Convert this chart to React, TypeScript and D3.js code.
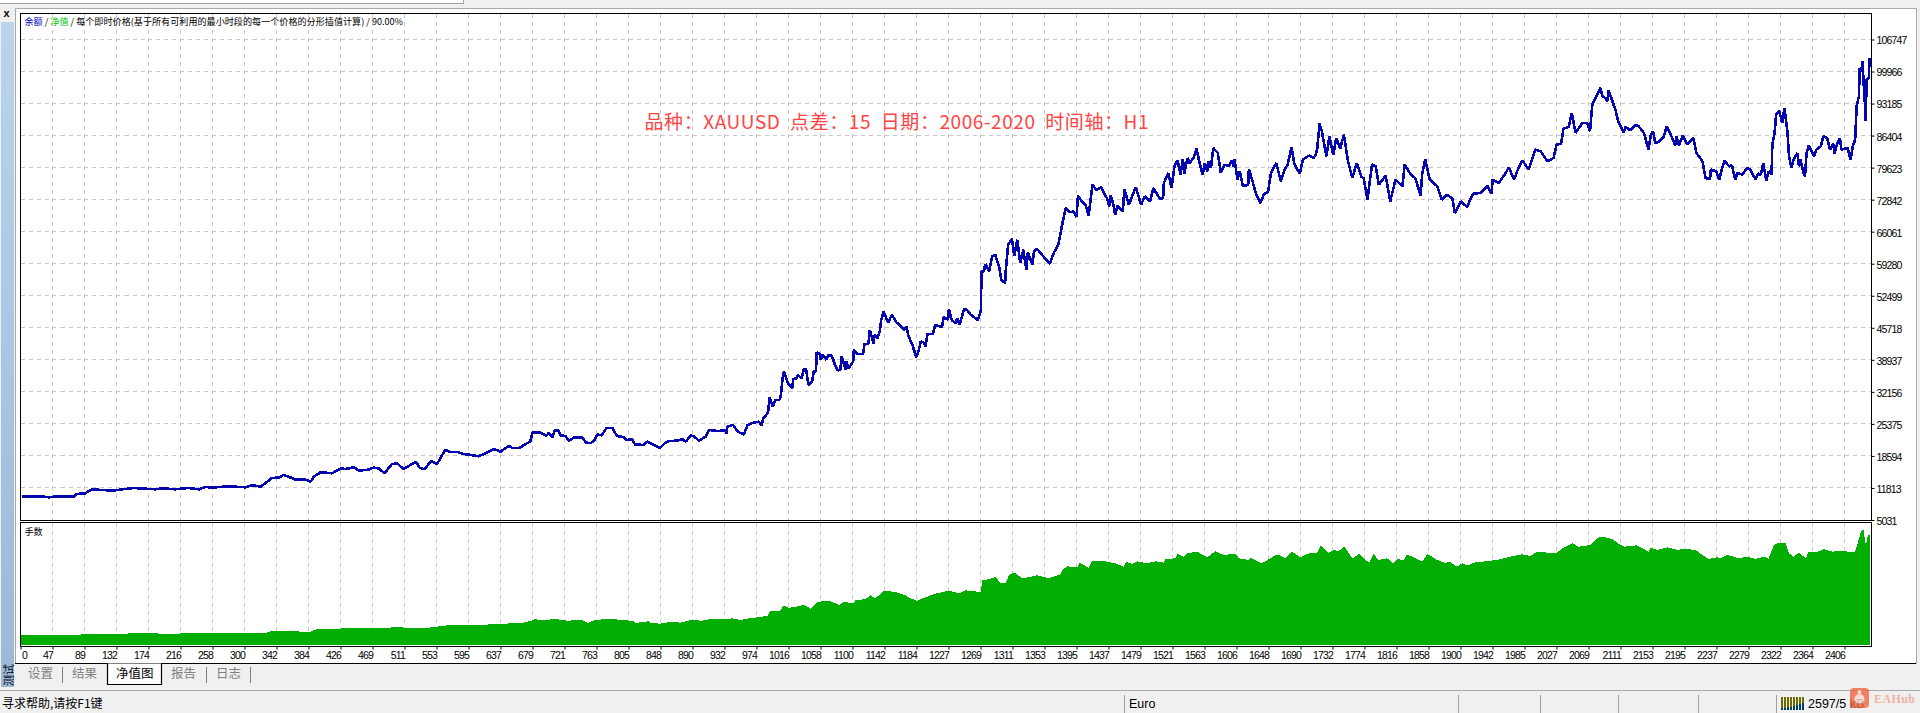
import React, { useEffect, useRef } from 'react';
import * as d3 from 'd3';

// x axis labels (deal number), one every 32px in the terminal
const xLabels = [
  '0', '47', '89', '132', '174', '216', '258', '300', '342', '384', '426', '469', '511', '553', '595',
  '637', '679', '721', '763', '805', '848', '890', '932', '974', '1016', '1058', '1100', '1142', '1184',
  '1227', '1269', '1311', '1353', '1395', '1437', '1479', '1521', '1563', '1606', '1648', '1690', '1732',
  '1774', '1816', '1858', '1900', '1942', '1985', '2027', '2069', '2111', '2153', '2195', '2237', '2279',
  '2322', '2364', '2406',
];

const yTicks = [
  5031, 11813, 18594, 25375, 32156, 38937, 45718, 52499, 59280, 66061, 72842, 79623, 86404, 93185, 99966, 106747,
];

// [deal, balance]
const equity: [number, number][] = [
  [7, 10050], [20, 10050], [31, 10050], [42, 9835], [55, 10050], [75, 9976], [79, 10541], [90, 10682], [99, 11530],
  [112, 11388], [126, 11247], [139, 11530], [154, 11812], [174, 11600], [183, 11530], [191, 11742], [209, 11530],
  [226, 11812], [240, 11530], [248, 12024], [257, 11883], [279, 12166], [301, 11954], [310, 12378], [321, 12095],
  [327, 12801], [336, 13931], [345, 14002], [351, 14567], [362, 13931], [367, 13578], [380, 13578], [387, 13154],
  [391, 14214], [400, 15132], [415, 14920], [426, 15909], [433, 15838], [444, 16192], [450, 15485], [463, 15697],
  [470, 16121], [477, 15909], [484, 14920], [494, 16898], [501, 16968], [509, 15838], [523, 17110],
  [526, 17251], [530, 16121], [537, 15768], [545, 17533], [553, 16827], [558, 18240], [564, 19865], [571, 19441],
  [580, 19441], [588, 19017], [597, 18805], [608, 18522], [617, 19158], [628, 20077], [637, 19512], [648, 20783],
  [652, 20289], [662, 20289], [670, 21136], [676, 21631], [679, 23537], [689, 23537], [697, 22831], [700, 23396],
  [705, 22549], [708, 23961], [713, 24032], [716, 22902], [722, 22831], [727, 21772], [733, 22478], [744, 22549],
  [749, 21489], [755, 21277], [760, 21772], [764, 23114], [770, 22973], [776, 24456], [784, 24526], [790, 22831],
  [799, 22549], [803, 21984], [810, 22125], [814, 20995], [825, 20924], [830, 21631], [838, 20995], [847, 20289],
  [852, 21136], [857, 21701], [869, 21842], [876, 22125], [881, 21631], [887, 22902], [891, 22761], [898, 21842],
  [907, 22690], [911, 24102], [922, 23890], [933, 23961], [934, 23255], [935, 24809], [943, 25162], [949, 23749],
  [957, 23114], [962, 25162], [970, 25656], [977, 25868], [980, 24950], [983, 26574], [989, 27775],
  [991, 30955], [995, 29048], [999, 30461], [1004, 30461], [1006, 31521], [1008, 35051], [1010, 36465], [1015, 33992],
  [1021, 32933], [1022, 34840], [1027, 35051], [1028, 35758], [1033, 35051], [1036, 36959], [1039, 36959],
  [1042, 33639], [1047, 34346], [1049, 36465], [1052, 36465], [1053, 40490], [1057, 40208], [1058, 38937],
  [1061, 39995], [1066, 38937], [1068, 39995], [1073, 39784], [1077, 37877], [1081, 36676], [1084, 36818],
  [1086, 39642], [1091, 36818], [1092, 38583], [1095, 37171], [1101, 38583], [1102, 41055], [1107, 40137],
  [1114, 40208], [1116, 42327], [1121, 42327], [1123, 45293], [1128, 42256], [1129, 44231], [1133, 43525],
  [1136, 44937], [1138, 47410], [1141, 49176], [1147, 46847], [1152, 48471], [1158, 46847], [1163, 46211],
  [1168, 45293], [1171, 45999], [1174, 43880], [1179, 42115], [1184, 39501], [1187, 40702], [1190, 42821],
  [1194, 42609], [1196, 41761], [1199, 44445], [1206, 44375], [1209, 46352], [1218, 45858], [1220, 47977],
  [1226, 47411], [1227, 49743], [1231, 47271], [1236, 46706], [1238, 47765], [1241, 46352], [1247, 49672],
  [1251, 49531], [1255, 48612], [1262, 47765], [1265, 47271], [1269, 49176], [1270, 57653], [1273, 57653],
  [1275, 59207], [1280, 57653], [1284, 60832], [1288, 61185], [1293, 58713], [1296, 55888], [1301, 55181],
  [1302, 58007], [1305, 63304], [1310, 64575], [1313, 60973], [1317, 64363], [1321, 59419], [1325, 62244],
  [1329, 58007], [1331, 61679], [1337, 59066], [1339, 61891], [1343, 62456], [1348, 61500],
  [1355, 60127], [1360, 59279], [1365, 61539], [1371, 63305], [1374, 65777], [1377, 68249], [1381, 71074],
  [1386, 70156], [1391, 70368], [1395, 69167], [1397, 73687], [1402, 72487], [1407, 71781], [1411, 69450],
  [1416, 76019], [1421, 74959], [1426, 75312],
  [1427, 75524], [1430, 74606], [1436, 72841], [1438, 71428], [1440, 73688], [1443, 72134], [1446, 69663],
  [1449, 71569], [1456, 70368], [1458, 75101], [1464, 71781], [1473, 75524], [1480, 71781], [1485, 73546],
  [1492, 72487], [1496, 75312], [1505, 72982], [1509, 73193], [1510, 76372], [1516, 78490], [1520, 75312],
  [1524, 79904], [1528, 81175], [1532, 78137], [1535, 81457], [1537, 78349], [1541, 81669], [1544, 80609],
  [1549, 81669], [1553, 83646], [1557, 80609], [1561, 78137], [1564, 80609], [1567, 78843], [1569, 80963],
  [1572, 79550], [1575, 83788], [1581, 82728], [1585, 78490], [1590, 80256], [1596, 79903], [1599, 81175],
  [1602, 79903], [1603, 81457], [1607, 77078], [1610, 78843], [1614, 75665], [1621, 76019], [1622, 79338],
  [1628, 76019], [1631, 74253], [1637, 72134], [1642, 74112], [1647, 74394], [1651, 78490], [1658, 80609],
  [1664, 76725], [1669, 79197], [1673, 80256], [1678, 83929], [1682, 80256], [1689, 78349], [1693, 81316],
  [1701, 82163], [1707, 81669], [1710, 82375], [1712, 83788], [1715, 88944], [1718, 87319], [1724, 82022],
  [1728, 86260], [1733, 82375], [1737, 85907], [1742, 83576], [1747, 86613], [1752, 81316], [1758, 77431],
  [1764, 80609], [1770, 77643], [1773, 77431], [1778, 72841], [1784, 80256], [1789, 79903], [1793, 76019],
  [1802, 77925], [1808, 72487], [1815, 77078], [1824, 75665], [1827, 80256], [1835, 78137], [1841, 77431],
  [1848, 73688], [1850, 78137], [1854, 81457], [1860, 77078], [1870, 75665], [1876, 72841], [1883, 73899],
  [1890, 72982], [1893, 70015], [1901, 72487], [1909, 71287], [1917, 74112], [1927, 74253], [1936, 75806],
  [1941, 74112], [1943, 77078], [1951, 76372], [1960, 78490], [1964, 79691], [1971, 77078], [1975, 78843],
  [1982, 81175], [1990, 79197], [1999, 83435], [2006, 83081], [2015, 80963], [2023, 81669], [2027, 84494],
  [2033, 84706], [2036, 87885], [2043, 88238], [2047, 91204], [2052, 86966], [2061, 89085], [2067, 89085],
  [2071, 87319], [2074, 92970], [2085, 96502], [2087, 94736], [2091, 94383], [2094, 93677], [2095, 96008],
  [2099, 94383], [2105, 91558], [2108, 89439], [2115, 87108], [2118, 88238], [2124, 87532], [2131, 88733],
  [2135, 88380], [2142, 86967], [2148, 83435], [2151, 86401], [2154, 87320], [2157, 84706], [2162, 85201],
  [2168, 86119], [2172, 88380], [2176, 87108], [2183, 84353], [2185, 86260], [2188, 84283], [2193, 86401],
  [2199, 84495], [2207, 85907], [2211, 82729], [2219, 80963], [2223, 77431], [2229, 77219], [2230, 79198],
  [2237, 78845], [2241, 77078], [2245, 79551], [2248, 81105], [2254, 79904], [2258, 80116], [2262, 77078],
  [2265, 78491], [2271, 78137], [2278, 79551], [2282, 79198], [2289, 77078], [2292, 78350], [2296, 78137],
  [2299, 80610], [2303, 76937], [2306, 78845], [2310, 78137], [2311, 84495], [2314, 86967], [2316, 90851],
  [2320, 91700], [2324, 89086], [2327, 92264], [2331, 86967], [2333, 82022], [2336, 79551], [2339, 81317],
  [2344, 82729], [2346, 79904], [2348, 81317], [2352, 78491], [2354, 77785], [2356, 82729], [2359, 84283],
  [2366, 82022], [2369, 83435], [2375, 84141], [2378, 86260], [2383, 85907], [2387, 83435], [2391, 84706],
  [2393, 82588], [2396, 84495], [2400, 85907], [2402, 83435], [2410, 83789], [2414, 81317], [2417, 84141],
  [2420, 85554], [2422, 92617], [2425, 94736], [2426, 100740], [2428, 100034], [2430, 102153], [2431, 97562],
  [2432, 96150], [2434, 89439], [2435, 98268], [2438, 98621], [2439, 102859],
];

// [deal, lots] lower panel has no scale, so the unit is a guess
const lots: [number, number][] = [
  [6, 10], [84, 10], [86, 11], [143, 11], [150, 12], [174, 11.7], [213, 11], [216, 12], [240, 12], [328, 12],
  [330, 13], [336, 14], [367, 14], [371, 13.5], [385, 13], [395, 16], [426, 16], [428, 17], [459, 16.7], [485, 16.7],
  [494, 17.7], [507, 17.7], [512, 16.7], [542, 17.3], [560, 19], [569, 20], [606, 20], [626, 20.7], [637, 20.7],
  [650, 21.7], [665, 22], [678, 24.3], [681, 25.7], [696, 25], [709, 26], [725, 24.3], [744, 25], [752, 22],
  [760, 24.7], [777, 26.3], [788, 25.7], [797, 25], [812, 24], [814, 22], [832, 23.7], [834, 22], [847, 21.3],
  [861, 23.3], [874, 22.3], [887, 25], [902, 24.3], [911, 25.7], [935, 26], [942, 26.7], [953, 25], [964, 26.7],
  [975, 27.7], [988, 29], [992, 34], [1005, 34.3], [1010, 39.7], [1016, 37.3], [1023, 37.7], [1036, 40.3],
  [1045, 36.3], [1054, 43.3], [1071, 44], [1082, 40], [1089, 43], [1102, 41.7], [1104, 45], [1117, 45.7],
  [1124, 49.7], [1130, 46.7], [1135, 49.7], [1141, 54], [1155, 53.3], [1168, 50.3], [1176, 47], [1185, 44],
  [1192, 46.7], [1201, 49], [1209, 51.3], [1227, 54.3], [1240, 51.7], [1249, 54.7], [1269, 53], [1271, 65],
  [1277, 65.3], [1288, 68], [1295, 62.3], [1302, 61.7], [1306, 70], [1313, 72.7], [1323, 66.7], [1332, 67.7],
  [1343, 69.7], [1359, 66.7], [1374, 70.7], [1377, 75.7], [1383, 78.7], [1396, 77.7], [1399, 82.3], [1411, 77.3],
  [1416, 84.3], [1431, 84], [1446, 81.7], [1457, 78.3], [1460, 83.3], [1468, 81], [1475, 83.7], [1488, 81.7],
  [1499, 83.7], [1510, 82.3], [1512, 85.7], [1525, 86.7], [1528, 91], [1536, 88.3], [1541, 91.7], [1554, 93.3],
  [1567, 87.7], [1578, 93.7], [1589, 90], [1604, 91.3], [1609, 86.7], [1622, 85], [1624, 87.3], [1639, 81.7],
  [1659, 90.7], [1670, 86.7], [1679, 93.3], [1690, 87.7], [1701, 91.7], [1712, 92.3], [1717, 99.7], [1727, 92.3],
  [1734, 95], [1740, 94], [1748, 98.3], [1758, 86.7], [1767, 91], [1780, 82.3], [1786, 90.7], [1793, 85],
  [1804, 86.7], [1812, 81.7], [1817, 86], [1826, 85], [1830, 90.7], [1841, 86.7], [1850, 83.3], [1857, 91],
  [1870, 85], [1879, 82.3], [1887, 82.7], [1896, 78.3], [1903, 81.7], [1909, 79.3], [1918, 82.3], [1940, 84.3],
  [1953, 85.7], [1962, 87.7], [1982, 90.7], [1993, 89], [2001, 93.3], [2026, 91.7], [2037, 97.7], [2048, 101.7],
  [2056, 98.3], [2072, 100], [2080, 106.7], [2087, 108.3], [2100, 106], [2111, 100], [2116, 98.3], [2133, 99.7],
  [2148, 93.3], [2151, 97.7], [2159, 95], [2173, 97.7], [2186, 95], [2195, 96.3], [2210, 95], [2216, 91.7],
  [2227, 86], [2238, 87.7], [2243, 86.7], [2252, 90], [2260, 88.3], [2267, 86.7], [2278, 88.3], [2289, 86],
  [2300, 88.3], [2306, 86], [2313, 100], [2320, 102.3], [2328, 102.3], [2333, 91.7], [2339, 88.3], [2346, 92.3],
  [2355, 86.7], [2359, 93.3], [2370, 93.3], [2379, 95.7], [2390, 93.3], [2401, 94.3], [2412, 93.3], [2420, 93.3],
  [2424, 103.3], [2428, 114.3], [2431, 115], [2434, 100], [2437, 110], [2440, 110],
];

const tabs = ['设置', '结果', '净值图', '报告', '日志'];
const signalBars = [2, 2, 3, 3, 4, 5, 6, 7];

const CJK = '"Noto Sans CJK SC", "Liberation Sans", sans-serif';
const NUM = '"Liberation Sans", Arial, sans-serif';

export default function App() {
  const svgRef = useRef<SVGSVGElement>(null);

  useEffect(() => {
    if (!svgRef.current) return;
    const width = 1920;
    const height = 713;
    const frame = { left: 20.5, right: 1871.5, top: 13.5, mainBottom: 520.5, lotTop: 522.5, bottom: 646.5 };

    d3.select(svgRef.current).selectAll('*').remove();
    const svg = d3.select(svgRef.current).attr('width', width).attr('height', height);

    // Scales
    const xBand = d3.scalePoint<string>().domain(xLabels).range([20.5, 1844.5]);
    const x = d3.scaleLinear().domain([47, 2406]).range([52.5, 1844.5]);
    const y = d3.scaleLinear().domain([5031, 106747]).range([520, 39.5]);
    const yLots = d3.scaleLinear().domain([0, 123]).range([645, 522]);

    // Terminal chrome
    svg.append('rect').attr('width', width).attr('height', height).attr('fill', '#f0f0f0');
    svg.append('rect').attr('x', 0).attr('y', 0).attr('width', 463).attr('height', 3).attr('fill', '#fff');
    svg.append('line').attr('x1', 0).attr('x2', 463).attr('y1', 3.5).attr('y2', 3.5).attr('stroke', '#a0a0a0');
    svg.append('line').attr('x1', 463.5).attr('x2', 463.5).attr('y1', 0).attr('y2', 4).attr('stroke', '#a0a0a0');
    svg.append('rect').attr('x', 15.5).attr('y', 8.5).attr('width', 1901).attr('height', 655)
      .attr('fill', '#fff').attr('stroke', '#a9a9a9').attr('stroke-width', 1);

    const defs = svg.append('defs');
    const grad = defs.append('linearGradient').attr('id', 'side-bar').attr('x1', '0%').attr('y1', '0%').attr('x2', '0%').attr('y2', '100%');
    grad.append('stop').attr('offset', '0%').attr('stop-color', '#bad4ec');
    grad.append('stop').attr('offset', '100%').attr('stop-color', '#9cb8d8');
    svg.append('rect').attr('x', 1).attr('y', 22).attr('width', 13).attr('height', 665).attr('fill', 'url(#side-bar)');
    svg.append('text').attr('x', 6.5).attr('y', 16.5).attr('text-anchor', 'middle')
      .attr('font-family', NUM).attr('font-weight', 700).attr('font-size', 11).text('x');
    svg.append('text').attr('transform', 'translate(12.5,686) rotate(-90)')
      .attr('font-family', CJK).attr('font-size', 11).attr('fill', '#000').text('测试');

    // Grid
    const grid = svg.append('g').attr('stroke', '#c8c8c8').attr('stroke-dasharray', '4,4').attr('shape-rendering', 'crispEdges');
    yTicks.slice(1).forEach(t => {
      grid.append('line').attr('x1', frame.left).attr('x2', frame.right).attr('y1', y(t)).attr('y2', y(t));
    });
    xLabels.slice(1).forEach(l => {
      const px = xBand(l) as number;
      grid.append('line').attr('x1', px).attr('x2', px).attr('y1', frame.top).attr('y2', frame.mainBottom);
      grid.append('line').attr('x1', px).attr('x2', px).attr('y1', frame.lotTop).attr('y2', frame.bottom);
    });

    // Lots area
    const area = d3.area<[number, number]>()
      .x(d => x(d[0]))
      .y0(yLots(0))
      .y1(d => yLots(d[1]));
    svg.append('path').datum(lots).attr('fill', '#03ae03').attr('shape-rendering', 'crispEdges').attr('d', area);

    // Balance line
    const line = d3.line<[number, number]>().x(d => x(d[0])).y(d => y(d[1]));
    svg.append('path').datum(equity).attr('fill', 'none').attr('stroke', '#0505b0')
      .attr('stroke-width', 2.6).attr('stroke-linejoin', 'bevel').attr('shape-rendering', 'crispEdges').attr('d', line);

    // Frames
    const frames = svg.append('g').attr('fill', 'none').attr('stroke', '#000').attr('stroke-width', 1.5).attr('shape-rendering', 'crispEdges');
    frames.append('rect').attr('x', frame.left).attr('y', frame.top)
      .attr('width', frame.right - frame.left).attr('height', frame.mainBottom - frame.top);
    frames.append('rect').attr('x', frame.left).attr('y', frame.lotTop)
      .attr('width', frame.right - frame.left).attr('height', frame.bottom - frame.lotTop);

    // Axes
    const yAxis = d3.axisRight(y).tickValues(yTicks).tickSize(3).tickPadding(2).tickFormat(d3.format('d') as any);
    svg.append('g').attr('transform', `translate(${frame.right},0)`).call(yAxis)
      .call(g => g.select('.domain').remove())
      .call(g => g.selectAll('.tick line').attr('stroke', '#000'))
      .call(g => g.selectAll('.tick text').attr('fill', '#000').attr('font-family', NUM).attr('font-size', '10.5px').attr('letter-spacing', '-0.85px').attr('dy', '0.42em'));

    const xAxis = d3.axisBottom(xBand).tickSize(3).tickPadding(2);
    svg.append('g').attr('transform', `translate(0,${frame.bottom})`).call(xAxis)
      .call(g => g.select('.domain').remove())
      .call(g => g.selectAll('.tick line').attr('stroke', '#000'))
      .call(g => g.selectAll('.tick text')
        .attr('fill', '#000')
        .attr('font-family', NUM)
        .attr('font-size', '10.5px')
        .attr('letter-spacing', '-0.85px')
        .attr('text-anchor', (d: any) => (d === '0' ? 'start' : 'end')));
    svg.selectAll('.tick text').filter((d: any) => d === '0').attr('dx', 1);

    // Panel captions
    const legend = svg.append('text').attr('x', 24.5).attr('y', 25).attr('font-family', CJK).attr('font-size', 9.1).attr('fill', '#000');
    legend.append('tspan').attr('fill', '#0000c8').text('余额');
    legend.append('tspan').text(' / ');
    legend.append('tspan').attr('fill', '#00c800').text('净值');
    legend.append('tspan').text(' / 每个即时价格(基于所有可利用的最小时段的每一个价格的分形插值计算) / 90.00%');
    svg.append('text').attr('x', 24.5).attr('y', 534.5).attr('font-family', CJK).attr('font-size', 9.1).text('手数');

    // Annotation
    svg.append('text').attr('x', 644.5).attr('y', 129).attr('font-family', CJK).attr('font-size', 19).attr('fill', '#ff4444')
      .attr('textLength', 504).attr('lengthAdjust', 'spacing').style('white-space', 'pre')
      .text('品种：XAUUSD  点差：15  日期：2006-2020  时间轴：H1');

    // Tabs
    svg.append('rect').attr('x', 16).attr('y', 664).attr('width', 1900).attr('height', 23).attr('fill', '#f0f0f0');
    svg.append('line').attr('x1', 15).attr('x2', 1916).attr('y1', 663.5).attr('y2', 663.5).attr('stroke', '#000').attr('shape-rendering', 'crispEdges');
    svg.append('path').attr('d', 'M107.5,663.5V684.5H161.5V663.5').attr('fill', '#fff').attr('stroke', '#000').attr('stroke-width', 1.2);
    const tabX = [28, 72, 116, 171, 216];
    tabs.forEach((t, i) => {
      svg.append('text').attr('x', tabX[i]).attr('y', 678).attr('font-family', CJK).attr('font-size', 12.5)
        .attr('fill', t === '净值图' ? '#000' : '#808080').text(t);
    });
    [62.5, 206.5, 250.5].forEach(px => {
      svg.append('line').attr('x1', px).attr('x2', px).attr('y1', 667).attr('y2', 683).attr('stroke', '#808080');
    });

    // Status bar
    svg.append('line').attr('x1', 0).attr('x2', width).attr('y1', 690.5).attr('y2', 690.5).attr('stroke', '#a9a9a9');
    svg.append('text').attr('x', 2).attr('y', 708).attr('font-family', CJK).attr('font-size', 12).attr('fill', '#000').text('寻求帮助,请按F1键');
    svg.append('text').attr('x', 1129).attr('y', 708).attr('font-family', NUM).attr('font-size', 12.5).attr('fill', '#000').text('Euro');
    [1124.5, 1458.5, 1540.5, 1618.5, 1698.5, 1776.5].forEach(px => {
      svg.append('line').attr('x1', px).attr('x2', px).attr('y1', 695).attr('y2', 713).attr('stroke', '#a0a0a0');
    });
    signalBars.forEach((h, i) => {
      const bx = 1781 + i * 3;
      svg.append('rect').attr('x', bx).attr('y', 697).attr('width', 2).attr('height', 13 - h).attr('fill', '#6b6b00');
      svg.append('rect').attr('x', bx).attr('y', 710 - h).attr('width', 2).attr('height', h).attr('fill', '#003d66');
    });
    svg.append('text').attr('x', 1808).attr('y', 708).attr('font-family', NUM).attr('font-size', 12.5).attr('fill', '#000').text('2597/5 kB');

    // Watermark
    const mark = svg.append('g').attr('opacity', 0.78);
    mark.append('rect').attr('x', 1850).attr('y', 688).attr('width', 19).attr('height', 20).attr('rx', 4).attr('fill', '#f0633f');
    mark.append('circle').attr('cx', 1859.5).attr('cy', 699).attr('r', 5).attr('fill', '#fbd8cd');
    mark.append('circle').attr('cx', 1859.5).attr('cy', 692).attr('r', 2).attr('fill', '#fbd8cd');
    mark.append('text').attr('x', 1874).attr('y', 703).attr('font-family', '"Liberation Serif", serif').attr('font-weight', 700)
      .attr('font-size', 12).attr('fill', '#f4a08c').attr('letter-spacing', '0.4px').text('EAHub');
  }, []);

  return <svg ref={svgRef} style={{ position: 'absolute', left: 0, top: 0, display: 'block' }} />;
}
